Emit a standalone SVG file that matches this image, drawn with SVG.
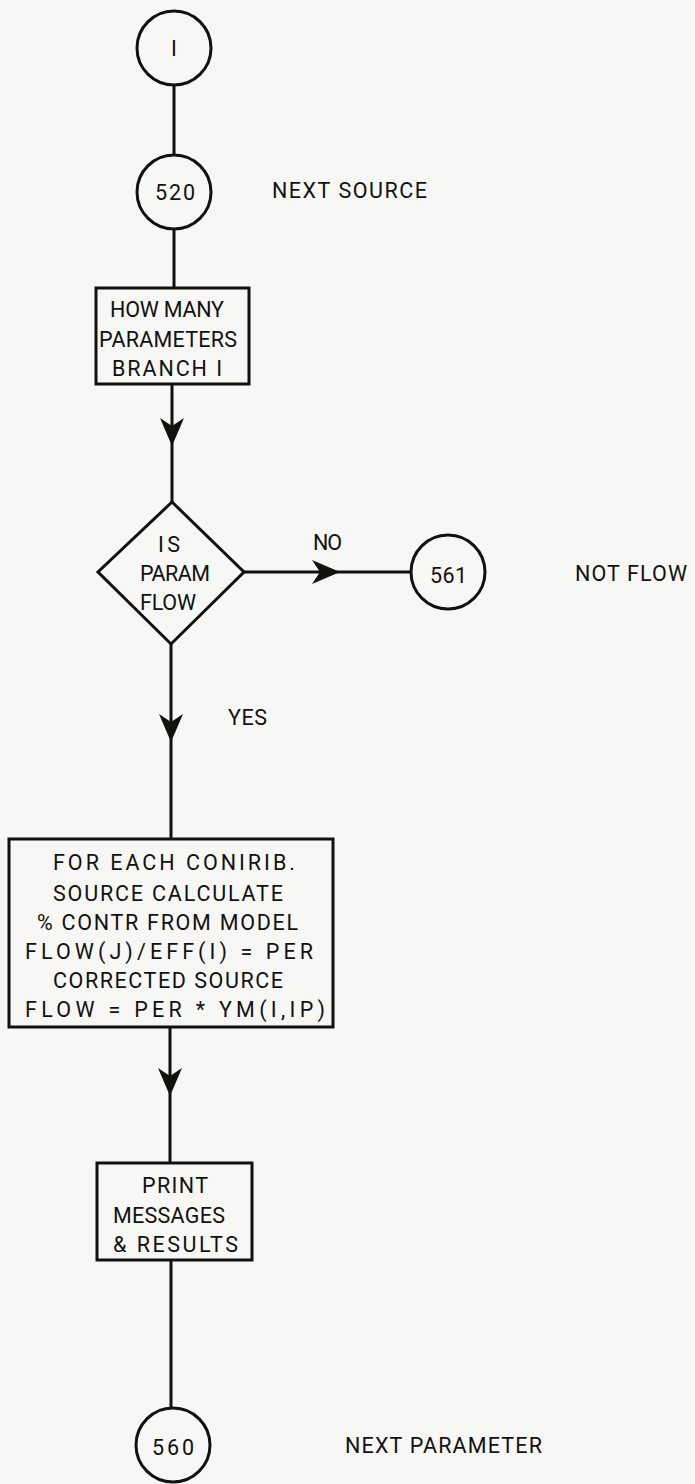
<svg xmlns="http://www.w3.org/2000/svg" xmlns:xlink="http://www.w3.org/1999/xlink" width="695" height="1484" viewBox="0 0 695 1484">
<style>
.bg{fill:#f7f7f5}
.shape{fill:none;stroke:#111;stroke-width:3}
.conn{fill:none;stroke:#111;stroke-width:3}
.ah{fill:#111;stroke:none}
text{font-family:Roboto,"Liberation Sans","DejaVu Sans",sans-serif;font-size:21.5px;font-weight:400;fill:#111}
</style>
<defs>
<path id="arrowDown" class="ah" d="M0,0 L-12,-28 L0,-20 L12,-28 Z"/>
<path id="arrowRight" class="ah" d="M0,0 L-28,-12 L-20,0 L-28,12 Z"/>
</defs>
<rect class="bg" x="0" y="0" width="695" height="1484"/>

<g id="connectors">
<line class="conn" x1="174" y1="85" x2="174" y2="154"/>
<line class="conn" x1="174" y1="230" x2="174" y2="288"/>
<line class="conn" x1="172" y1="384" x2="172" y2="502"/>
<use xlink:href="#arrowDown" x="172" y="446"/>
<line class="conn" x1="244" y1="572" x2="411" y2="572"/>
<use xlink:href="#arrowRight" x="340" y="572"/>
<line class="conn" x1="171" y1="644" x2="171" y2="839"/>
<use xlink:href="#arrowDown" x="171" y="742"/>
<line class="conn" x1="170" y1="1027" x2="170" y2="1163"/>
<use xlink:href="#arrowDown" x="170" y="1096"/>
<line class="conn" x1="171" y1="1260" x2="171" y2="1408"/>
<text x="313" y="550" textLength="29" lengthAdjust="spacing">NO</text>
<text x="228" y="725" textLength="39" lengthAdjust="spacing">YES</text>
</g>

<g id="n1">
<circle class="shape" cx="174" cy="48" r="37"/>
<text x="174" y="56" text-anchor="middle">I</text>
</g>

<g id="n520">
<circle class="shape" cx="174" cy="192" r="37"/>
<text x="155" y="200" textLength="40" lengthAdjust="spacing">520</text>
<text x="272" y="198" textLength="155" lengthAdjust="spacing">NEXT SOURCE</text>
</g>

<g id="howmany">
<rect class="shape" x="96" y="288" width="153" height="96"/>
<text x="110" y="317" textLength="114" lengthAdjust="spacing">HOW MANY</text>
<text x="99" y="347" textLength="138" lengthAdjust="spacing">PARAMETERS</text>
<text x="112" y="376" textLength="110" lengthAdjust="spacing">BRANCH I</text>
</g>

<g id="decision">
<polygon class="shape" points="172,502 244,572 171,644 98,572"/>
<text x="158" y="552" textLength="22" lengthAdjust="spacing">IS</text>
<text x="140" y="581" textLength="70" lengthAdjust="spacing">PARAM</text>
<text x="140" y="610" textLength="56" lengthAdjust="spacing">FLOW</text>
</g>

<g id="n561">
<circle class="shape" cx="448" cy="572" r="37"/>
<text x="430" y="583" textLength="37" lengthAdjust="spacing">561</text>
<text x="575" y="581" textLength="112" lengthAdjust="spacing">NOT FLOW</text>
</g>

<g id="calc">
<rect class="shape" x="9" y="839" width="324" height="188"/>
<text x="53" y="870" textLength="242" lengthAdjust="spacing">FOR EACH CONIRIB.</text>
<text x="53" y="901" textLength="230" lengthAdjust="spacing">SOURCE CALCULATE</text>
<text x="37" y="930" textLength="261" lengthAdjust="spacing">% CONTR FROM MODEL</text>
<text x="25" y="959" textLength="288" lengthAdjust="spacing">FLOW(J)/EFF(I) = PER</text>
<text x="53" y="988" textLength="230" lengthAdjust="spacing">CORRECTED SOURCE</text>
<text x="25" y="1017" textLength="300" lengthAdjust="spacing">FLOW = PER * YM(I,IP)</text>
</g>

<g id="print">
<rect class="shape" x="97" y="1163" width="155" height="97"/>
<text x="142" y="1193" textLength="66" lengthAdjust="spacing">PRINT</text>
<text x="113" y="1223" textLength="112" lengthAdjust="spacing">MESSAGES</text>
<text x="113" y="1252" textLength="125" lengthAdjust="spacing">&amp; RESULTS</text>
</g>

<g id="n560">
<circle class="shape" cx="173" cy="1445" r="37"/>
<text x="152" y="1455" textLength="42" lengthAdjust="spacing">560</text>
<text x="345" y="1453" textLength="197" lengthAdjust="spacing">NEXT PARAMETER</text>
</g>
</svg>
